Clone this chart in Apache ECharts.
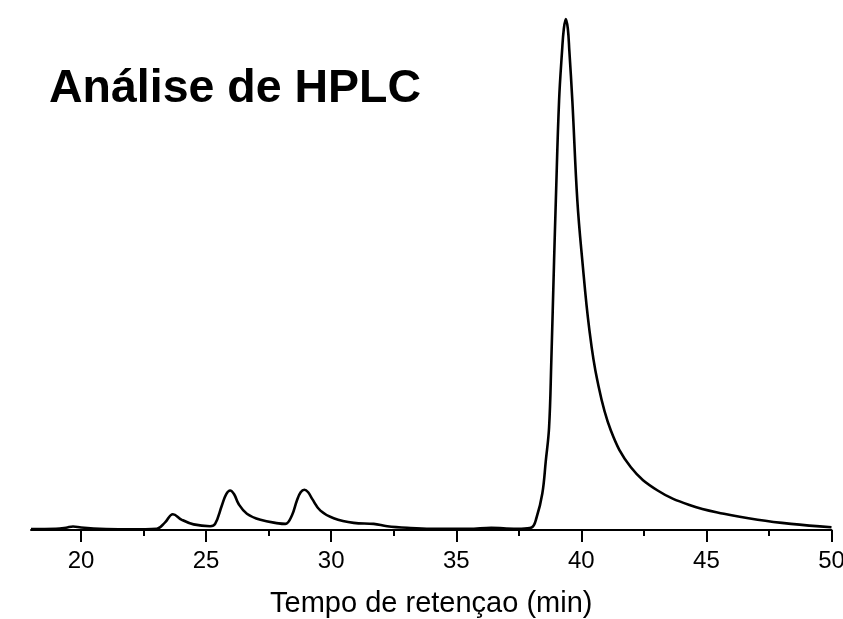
<!DOCTYPE html>
<html>
<head>
<meta charset="utf-8">
<title>Análise de HPLC</title>
<script src="https://cdn.jsdelivr.net/npm/echarts@6/dist/echarts.min.js"></script>
<style>
  html, body { margin: 0; padding: 0; background: #fff; }
  #chart { width: 843px; height: 619px; }
</style>
</head>
<body>
<div id="chart"></div>
<script>
// tempo de retenção (min) e sinal do detector (unidades relativas)
var retentionTime = [
  18.0, 19.0, 19.4, 19.68, 20.0, 20.5, 21.0, 22.0,
  23.03, 23.36, 23.67, 24.03, 24.5, 25.16,
  25.36, 25.63, 25.8, 25.96, 26.12, 26.3, 26.63, 27.17, 27.9,
  28.17, 28.43, 28.63, 28.78, 28.93, 29.08, 29.24, 29.57, 30.1, 30.9, 31.7, 32.24, 33.04,
  34.0, 35.5, 36.4, 37.0, 37.6,
  38.01, 38.21, 38.44, 38.58, 38.71, 38.8, 38.91, 38.98, 39.11, 39.23, 39.3, 39.38,
  39.46, 39.52, 39.64, 39.84, 40.04, 40.31, 40.64, 41.18, 41.98, 43.05, 44.38, 45.7, 47.05, 48.38, 50.0
];
var signal = [
  0.2, 0.25, 0.45, 0.7, 0.5, 0.3, 0.2, 0.15,
  0.25, 1.5, 3.1, 2.0, 1.1, 0.75,
  1.2, 4.8, 7.0, 7.75, 7.0, 5.1, 3.2, 2.0, 1.3,
  1.2, 2.85, 5.8, 7.4, 7.9, 7.4, 6.1, 3.8, 2.3, 1.4, 1.2, 0.75, 0.43,
  0.25, 0.25, 0.45, 0.3, 0.25,
  0.5, 2.45, 7.16, 13.6, 20.1, 33.2, 52.8, 64.6, 84.2, 94, 98.3, 100.2,
  98.3, 94, 84.2, 64.6, 52.8, 39.7, 29.3, 19.5, 12.3, 7.75, 4.8, 3.18, 2.0, 1.2, 0.55
];
var majorTicks = [20, 25, 30, 35, 40, 45, 50];
var minorTicks = [22.5, 27.5, 32.5, 37.5, 42.5, 47.5];

var chart = echarts.init(document.getElementById('chart'));

var points = retentionTime.map(function (t, i) {
  return [t, signal[i]];
});

var option = {
  backgroundColor: '#fff',
  animation: false,
  title: {
    text: 'Análise de HPLC',
    left: 49,
    top: 66,
    padding: 0,
    textStyle: {
      fontFamily: 'Liberation Sans, Arial, sans-serif',
      fontWeight: 'bold',
      fontSize: 46.5,
      color: '#000'
    }
  },
  grid: {
    left: 31,
    right: 11.5,
    top: 15,
    bottom: 89,
    outerBoundsMode: 'none'
  },
  xAxis: [
    {
      type: 'value',
      min: 18,
      max: 50,
      position: 'bottom',
      name: 'Tempo de retençao (min)',
      nameLocation: 'middle',
      nameGap: 59,
      nameTextStyle: {
        fontFamily: 'Liberation Sans, Arial, sans-serif',
        fontSize: 29,
        color: '#000'
      },
      axisLine: { lineStyle: { color: '#000', width: 2 } },
      axisTick: {
        customValues: majorTicks,
        length: 12,
        lineStyle: { color: '#000', width: 2 }
      },
      axisLabel: {
        customValues: majorTicks,
        margin: 19,
        fontFamily: 'Liberation Sans, Arial, sans-serif',
        fontSize: 24,
        color: '#000'
      },
      splitLine: { show: false }
    },
    {
      type: 'value',
      min: 18,
      max: 50,
      position: 'bottom',
      axisLine: { show: false },
      axisTick: {
        customValues: minorTicks,
        length: 6,
        lineStyle: { color: '#000', width: 2 }
      },
      axisLabel: { show: false },
      splitLine: { show: false }
    }
  ],
  yAxis: {
    type: 'value',
    min: 0,
    max: 101,
    show: false
  },
  series: [
    {
      type: 'line',
      xAxisIndex: 0,
      data: points,
      showSymbol: false,
      smooth: 0.4,
      lineStyle: { color: '#000', width: 2.6 }
    }
  ]
};

chart.setOption(option);
</script>
</body>
</html>
